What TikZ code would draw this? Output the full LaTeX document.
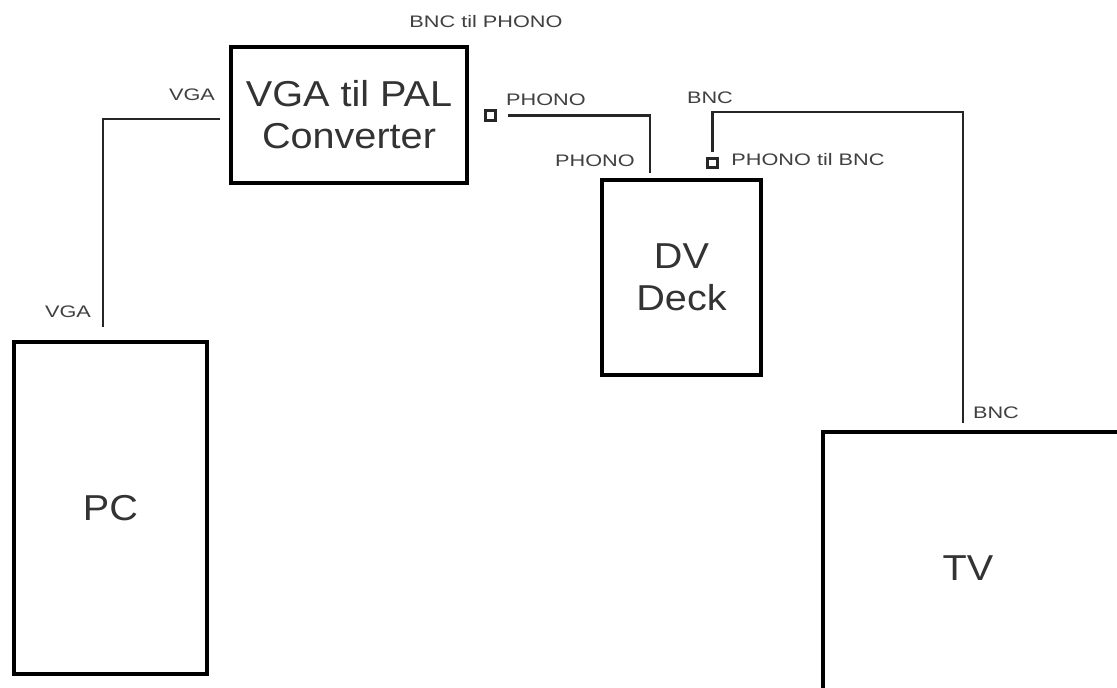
\documentclass[tikz,border=0pt]{standalone}
\usepackage{fontspec}
\setmainfont{Liberation Sans}
\newfontfamily\devfont[FakeStretch=1.1]{Liberation Sans}
\newfontfamily\lblfont[FakeStretch=1.3]{Liberation Sans}
\usetikzlibrary{positioning,calc}

\begin{document}
\begin{tikzpicture}[
  x=0.02cm, y=-0.02cm,
  wire/.style={line width=1.3pt, draw=black!85},
  box/.style={draw=black, line width=2.5pt, fill=white, inner sep=0pt, align=center, font=\devfont\fontsize{20.5}{24}\selectfont, text=black!80},
  devname/.style={inner sep=0pt, font=\devfont\fontsize{20.5}{24}\selectfont, text=black!80},
  jack/.style={draw=black!85, line width=1.5pt, minimum size=0.19cm, inner sep=0pt},
  lbl/.style={inner sep=0pt, font=\lblfont\fontsize{9.5}{11}\selectfont, text=black!75}
]
\useasboundingbox (0,0) rectangle (1117,688);
\clip (0,0) rectangle (1117,688);
\fill[white] (0,0) rectangle (1117,688);

% Devices
\node[box, minimum width=4.72cm, minimum height=2.72cm] (conv) at (349,115) {VGA til PAL\\Converter};
\node[box, minimum width=3.86cm, minimum height=6.64cm] (pc) at (110.5,508) {PC};
\node[box, minimum width=3.18cm, minimum height=3.9cm] (dv) at (681.5,277.5) {DV\\Deck};
\node[box, minimum width=8cm, minimum height=6cm] (tv) at (1023,582) {};
\node[devname] (tvname) at (968,568) {TV};

% Jacks
\node[jack] (jconv) at (490.5,115.5) {};
\node[jack] (jdv) at (712.5,163) {};

% Cables
\draw[wire, shorten <=0.18cm, shorten >=0.26cm] ($(conv.west)+(0,4)$) -| ($(pc.north)+(-7.5,0)$);
\draw[wire, shorten <=0.22cm, shorten >=0.1cm] (jconv.east) -| ($(dv.north)+(-31.5,0)$);
\draw[wire, shorten <=0.1cm, shorten >=0.14cm] (jdv.north) -- ++(0,-45) -| ($(tv.north west)+(142,0)$);

% Labels
\node[lbl] (bncphono) at (486,22) {BNC til PHONO};
\node[lbl] (vgaconv) at (192,95) {VGA};
\node[lbl] (vgapc) at (68,312) {VGA};
\node[lbl] (phonoout) at (546,100) {PHONO};
\node[lbl] (phonoin) at (595,161) {PHONO};
\node[lbl] (bncout) at (710,98) {BNC};
\node[lbl] (phonobnc) at (808,160) {PHONO til BNC};
\node[lbl] (bnctv) at (996,413) {BNC};
\end{tikzpicture}
\end{document}
